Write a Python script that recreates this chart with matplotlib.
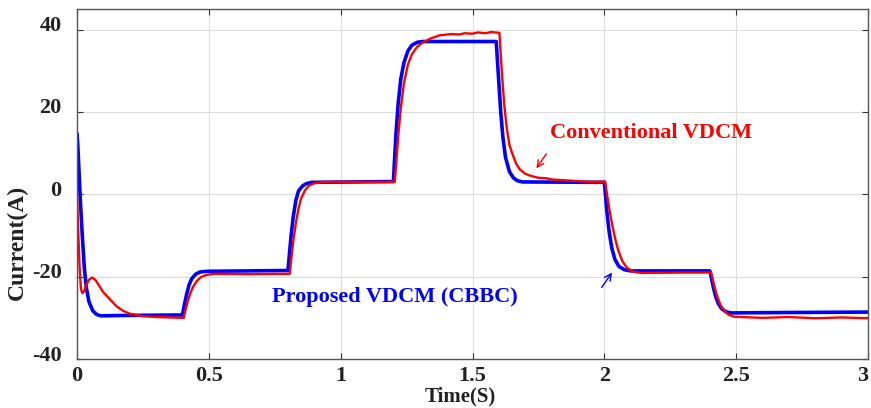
import matplotlib
matplotlib.use("Agg")
import matplotlib.pyplot as plt
from matplotlib.transforms import ScaledTranslation

plt.rcParams['font.family'] = ['Liberation Serif', 'DejaVu Serif']
plt.rcParams['font.weight'] = 'bold'
plt.rcParams['axes.unicode_minus'] = False

# Proposed VDCM (CBBC) - blue trace
blue_t = [0.0, 0.003, 0.008, 0.013, 0.02, 0.028, 0.035, 0.045, 0.06, 0.075, 0.09, 0.2, 0.4,
          0.405, 0.415, 0.425, 0.435, 0.45, 0.465, 0.49, 0.8,
          0.805, 0.812, 0.82, 0.83, 0.84, 0.855, 0.87, 0.89, 1.2,
          1.204, 1.21, 1.218, 1.228, 1.24, 1.255, 1.27, 1.29, 1.31, 1.59,
          1.594, 1.6, 1.607, 1.615, 1.625, 1.64, 1.655, 1.67, 1.69, 2.0,
          2.004, 2.01, 2.018, 2.028, 2.04, 2.055, 2.075, 2.1, 2.4,
          2.405, 2.413, 2.422, 2.432, 2.445, 2.46, 2.48, 2.7, 3.0]
blue_i = [15.0, 12.0, 5.0, -2.0, -10.0, -18.0, -22.5, -26.0, -28.3, -29.2, -29.5, -29.4, -29.3,
          -27.5, -24.5, -22.0, -20.5, -19.4, -18.9, -18.7, -18.5,
          -15.0, -10.0, -5.5, -1.5, 0.8, 2.0, 2.6, 2.9, 3.1,
          8.0, 15.0, 22.0, 28.0, 32.0, 34.8, 36.2, 36.9, 37.1, 37.1,
          33.0, 27.0, 20.0, 14.0, 9.0, 5.5, 4.0, 3.3, 3.0, 2.9,
          0.0, -4.5, -9.0, -13.0, -15.8, -17.5, -18.3, -18.6, -18.6,
          -20.0, -22.5, -24.8, -26.5, -27.8, -28.5, -28.8, -28.7, -28.6]

# Conventional VDCM - red trace
red_t = [0.0, 0.004, 0.01, 0.015, 0.02, 0.027, 0.035, 0.045, 0.057, 0.07, 0.085, 0.1, 0.125,
         0.15, 0.175, 0.2, 0.25, 0.3, 0.405,
         0.41, 0.42, 0.43, 0.44, 0.455, 0.47, 0.49, 0.52, 0.65, 0.807,
         0.812, 0.82, 0.83, 0.84, 0.85, 0.865, 0.88, 0.9, 0.94, 1.1, 1.205,
         1.21, 1.218, 1.228, 1.24, 1.255, 1.27, 1.29, 1.31, 1.34, 1.375, 1.42, 1.45,
         1.47, 1.5, 1.52, 1.55, 1.57, 1.602,
         1.606, 1.612, 1.62, 1.63, 1.64, 1.65, 1.665, 1.68, 1.7, 1.72, 1.75, 1.78,
         1.8, 1.85, 1.9, 1.95, 2.003,
         2.01, 2.02, 2.03, 2.04, 2.052, 2.068, 2.085, 2.11, 2.14, 2.3, 2.405,
         2.41, 2.418, 2.428, 2.44, 2.455, 2.47, 2.49, 2.52, 2.6, 2.7, 2.8, 2.9, 3.0]
red_i = [0.0, -8.0, -18.0, -23.0, -24.0, -23.5, -22.0, -20.8, -20.2, -20.8, -22.3, -23.8, -25.5,
         -27.2, -28.3, -29.0, -29.6, -29.8, -30.0,
         -28.5, -26.0, -24.0, -22.5, -21.0, -20.1, -19.6, -19.3, -19.4, -19.3,
         -16.0, -11.5, -7.0, -3.5, -1.0, 1.0, 2.1, 2.7, 3.0, 3.0, 3.0,
         7.0, 14.0, 21.0, 27.0, 31.5, 34.0, 35.8, 36.8, 37.8, 38.6, 38.9, 38.8,
         39.1, 39.0, 39.3, 39.1, 39.4, 39.2,
         35.0, 29.0, 22.0, 16.0, 12.0, 10.0, 7.5, 6.0, 5.0, 4.5, 4.0, 3.9,
         3.6, 3.4, 3.2, 3.0, 3.1,
         0.0, -4.0, -7.5, -10.5, -13.5, -16.2, -17.8, -18.8, -19.1, -19.0, -19.0,
         -20.3, -22.5, -24.8, -26.8, -28.3, -29.2, -29.7, -29.8, -30.0, -29.8, -30.1, -29.9, -30.1]

x_ticks = [0, 0.5, 1, 1.5, 2, 2.5, 3]
x_tick_labels = ['0', '0.5', '1', '1.5', '2', '2.5', '3']
y_ticks = [-40, -20, 0, 20, 40]

fig = plt.figure(figsize=(8.71, 4.08), dpi=100)
ax = fig.add_axes([0.0884, 0.120, 0.9082, 0.858])

ax.plot(blue_t, blue_i, color='#0000ff', lw=2.6, solid_capstyle='butt')
ax.plot(red_t, red_i, color='#ff0000', lw=1.7)

ax.set_xlim(0, 3)
ax.set_ylim(-40, 45)
ax.set_xticks(x_ticks)
ax.set_xticklabels(x_tick_labels)
ax.set_yticks(y_ticks)
ax.grid(True, color='#dddddd', lw=0.8)
ax.set_axisbelow(True)
ax.tick_params(direction='in', length=4, top=True, right=True, labelsize=16,
               color='#333333', labelcolor='#222222')
ax.tick_params(axis='x', pad=5)
ax.tick_params(axis='y', pad=11)
for sp in ax.spines.values():
    sp.set_color('#555555')
    sp.set_linewidth(1.0)

# y tick labels sit a little above their tick lines in the reference
shift = ScaledTranslation(0, 0.06, fig.dpi_scale_trans)
for lab in ax.get_yticklabels():
    lab.set_transform(lab.get_transform() + shift)
# keep the last x label inside the figure
ax.get_xticklabels()[-1].set_horizontalalignment('right')

ax.set_xlabel('Time(S)', fontsize=15, fontweight='bold', color='#222222')
ax.xaxis.set_label_coords(0.485, -0.078)
ax.set_ylabel('Current(A)', fontsize=17, fontweight='bold', color='#222222')
ax.yaxis.set_label_coords(-0.062, 0.333)

ax.text(1.795, 15, 'Conventional VDCM', color='#ff0000', fontsize=16,
        fontweight='bold', va='center', ha='left')
ax.annotate('', xy=(1.742, 6.3), xytext=(1.78, 9.8),
            arrowprops=dict(arrowstyle='->', color='#ff0000', lw=1.0,
                            mutation_scale=12, shrinkA=0, shrinkB=0))
ax.text(0.739, -25, 'Proposed VDCM (CBBC)', color='#0000ff', fontsize=16,
        fontweight='bold', va='center', ha='left')
ax.annotate('', xy=(2.029, -19.0), xytext=(1.99, -22.6),
            arrowprops=dict(arrowstyle='->', color='#0000ff', lw=1.0,
                            mutation_scale=12, shrinkA=0, shrinkB=0))

fig.savefig('out.png', dpi=100)
